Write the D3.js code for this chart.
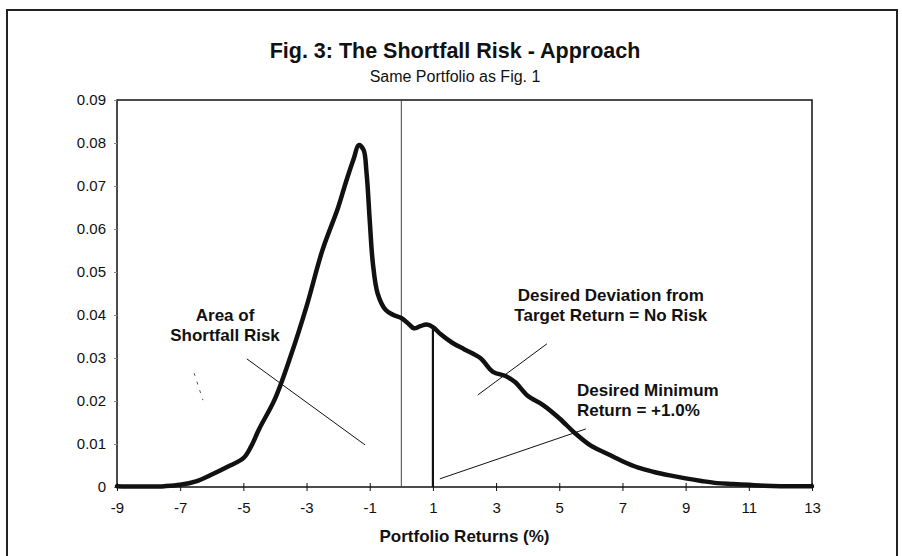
<!DOCTYPE html>
<html>
<head>
<meta charset="utf-8">
<script src="https://cdn.jsdelivr.net/npm/d3@7"></script>
<style>
  body { margin: 0; background: #fff; }
  text { font-family: "Liberation Sans", Arial, sans-serif; fill: #111; }
</style>
</head>
<body>
<div id="chart"></div>
<script>
// portfolio return (%) and density
var returns = [-9, -8.5, -8, -7.5, -7, -6.5, -6, -5.5, -5, -4.75, -4.5, -4, -3.5, -3, -2.5, -2, -1.75, -1.5, -1.35, -1.2, -1.1, -1, -0.9, -0.75, -0.5, -0.25, 0, 0.25, 0.4, 0.6, 0.8, 1, 1.25, 1.6, 2, 2.5, 2.9, 3.3, 3.6, 4, 4.5, 5, 5.5, 6, 6.5, 7, 7.5, 8, 8.5, 9, 9.5, 10, 10.5, 11, 11.5, 12, 12.5, 13];
var density = [0.0002, 0.0001, 0.0001, 0.0002, 0.0005, 0.0013, 0.0029, 0.0047, 0.0067, 0.0095, 0.0135, 0.0205, 0.0305, 0.0420, 0.0550, 0.0650, 0.0710, 0.0765, 0.0795, 0.0785, 0.0730, 0.0620, 0.0520, 0.0450, 0.0412, 0.0400, 0.0393, 0.0378, 0.0369, 0.0374, 0.0378, 0.0372, 0.0355, 0.0336, 0.0320, 0.0300, 0.0268, 0.0258, 0.0244, 0.0212, 0.0190, 0.0160, 0.0125, 0.0096, 0.0078, 0.0060, 0.0045, 0.0035, 0.0027, 0.0020, 0.0014, 0.0009, 0.0007, 0.0005, 0.0003, 0.0002, 0.0002, 0.0002];

var xTicks = [-9, -7, -5, -3, -1, 1, 3, 5, 7, 9, 11, 13];
var yTicks = [0, 0.01, 0.02, 0.03, 0.04, 0.05, 0.06, 0.07, 0.08, 0.09];

var target = 1;     // desired minimum return
var zeroLine = 0;

var width = 902, height = 556;
var margin = {top: 100, right: 90, bottom: 69, left: 117};

var svg = d3.select("#chart")
			.append("svg")
			.attr("width", width)
			.attr("height", height);

// outer frame
svg.append("rect")
	.attr("x", 7).attr("y", 10)
	.attr("width", 890).attr("height", 580)
	.attr("fill", "none")
	.style("stroke", "#222")
	.style("stroke-width", 2);

var x = d3.scaleLinear().domain([-9, 13]).range([margin.left, width - margin.right]);
var y = d3.scaleLinear().domain([0, 0.09]).range([height - margin.bottom, margin.top]);

svg.append("text")
	.attr("x", 455).attr("y", 58)
	.attr("text-anchor", "middle")
	.style("font-size", "21.5px").style("font-weight", "bold")
	.text("Fig. 3: The Shortfall Risk - Approach");

svg.append("text")
	.attr("x", 455).attr("y", 82)
	.attr("text-anchor", "middle")
	.style("font-size", "16px")
	.text("Same Portfolio as Fig. 1");

// plot box
svg.append("rect")
	.attr("x", x(-9)).attr("y", y(0.09))
	.attr("width", x(13) - x(-9)).attr("height", y(0) - y(0.09))
	.attr("fill", "none")
	.style("stroke", "#111")
	.style("stroke-width", 1.5);

var yAxis = svg.append("g")
	.attr("transform", "translate(" + x(-9) + ",0)")
	.call(d3.axisLeft(y).tickValues(yTicks).tickSize(3).tickSizeOuter(0).tickPadding(8)
		.tickFormat(function (d) { return d === 0 ? "0" : d.toFixed(2); }));
yAxis.select(".domain").remove();
yAxis.selectAll("text").style("font-size", "15px");
yAxis.selectAll("line").style("stroke", "#888");

var xAxis = svg.append("g")
	.attr("transform", "translate(0," + y(0) + ")")
	.call(d3.axisBottom(x).tickValues(xTicks).tickSizeOuter(0)
		.tickFormat(function (d) { return String(d); }));
xAxis.select(".domain").remove();
xAxis.selectAll("line").attr("y1", -4).attr("y2", 4).style("stroke", "#111");
xAxis.selectAll("text").attr("y", 15).style("font-size", "15px");

svg.append("text")
	.attr("x", (x(-9) + x(13)) / 2).attr("y", 542)
	.attr("text-anchor", "middle")
	.style("font-size", "17px").style("font-weight", "bold")
	.text("Portfolio Returns (%)");

// thin line at zero
svg.append("line")
	.attr("x1", x(zeroLine)).attr("x2", x(zeroLine))
	.attr("y1", y(0.09)).attr("y2", y(0))
	.style("stroke", "#444").style("stroke-width", 1);

// thick line at desired minimum return
var atTarget = density[returns.indexOf(target)];
svg.append("line")
	.attr("x1", x(target)).attr("x2", x(target))
	.attr("y1", y(0)).attr("y2", y(atTarget))
	.style("stroke", "#111").style("stroke-width", 2.2);

var points = returns.map(function (r, i) { return [r, density[i]]; });
var line = d3.line()
	.x(function (d) { return x(d[0]); })
	.y(function (d) { return y(d[1]); })
	.curve(d3.curveCatmullRom.alpha(0.5));

svg.append("path")
	.datum(points)
	.attr("d", line)
	.attr("fill", "none")
	.style("stroke", "#111")
	.style("stroke-width", 4.5)
	.style("stroke-linejoin", "round")
	.style("stroke-linecap", "round");

// annotations (data coordinates)
var notes = [
	{lines: ["Area of", "Shortfall Risk"], x: -5.58, y: 0.040, anchor: "middle"},
	{lines: ["Desired Deviation from", "Target Return = No Risk"], x: 6.63, y: 0.0447, anchor: "middle"},
	{lines: ["Desired Minimum", "Return = +1.0%"], x: 5.56, y: 0.0226, anchor: "start"}
];
var leaders = [
	{x1: -4.89, y1: 0.0298, x2: -1.15, y2: 0.0098},
	{x1: 2.42, y1: 0.0214, x2: 4.61, y2: 0.0333},
	{x1: 1.22, y1: 0.0019, x2: 5.84, y2: 0.0135}
];

notes.forEach(function (n) {
	n.lines.forEach(function (t, i) {
		svg.append("text")
			.attr("x", x(n.x)).attr("y", y(n.y) + i * 20.5)
			.attr("dy", "0.35em")
			.attr("text-anchor", n.anchor)
			.style("font-size", "17px").style("font-weight", "bold")
			.text(t);
	});
});

svg.selectAll(".leader")
	.data(leaders)
	.enter()
	.append("line")
	.attr("class", "leader")
	.attr("x1", function (d) { return x(d.x1); })
	.attr("y1", function (d) { return y(d.y1); })
	.attr("x2", function (d) { return x(d.x2); })
	.attr("y2", function (d) { return y(d.y2); })
	.style("stroke", "#111")
	.style("stroke-width", 1);

// stray dashed mark
svg.append("line")
	.attr("x1", x(-6.56)).attr("y1", y(0.0265))
	.attr("x2", x(-6.28)).attr("y2", y(0.0202))
	.style("stroke", "#555")
	.style("stroke-dasharray", "3,6")
	.style("stroke-width", 1);
</script>
</body>
</html>
